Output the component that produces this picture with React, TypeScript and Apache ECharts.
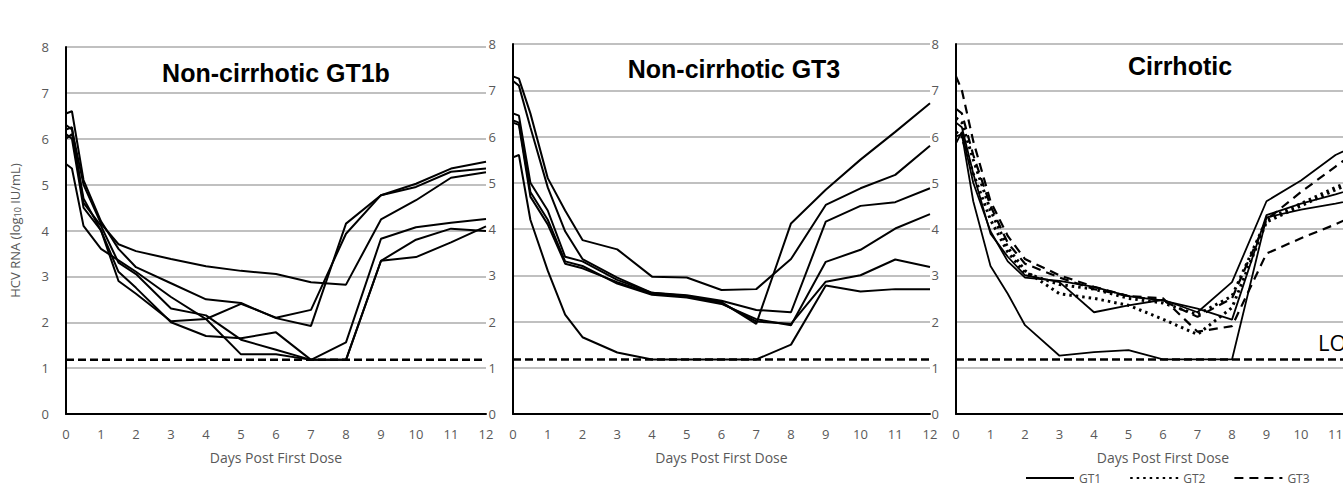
import React, { useEffect, useRef } from "react";
import * as echarts from "echarts";

// Sampling days (x values shared by every patient curve)
const DAYS = [0, 0.17, 0.5, 1, 1.5, 2, 3, 4, 5, 6, 7, 8, 9, 10, 11, 12];
const LOQ = 1.18;
const LOQ_SPAN = [0, 12];

const PANEL_TITLES = ["Non-cirrhotic GT1b", "Non-cirrhotic GT3", "Cirrhotic"];
const X_NAME = "Days Post First Dose";
const Y_NAME = "HCV RNA (log{s|10} IU/mL)";
const LEGEND_NAMES = ["GT1", "GT2", "GT3"];

// Panel 1: Non-cirrhotic GT1b
const GT1B_1 = [6.3, 6.2, 5.0, 4.15, 3.7, 3.55, 3.38, 3.22, 3.12, 3.05, 2.87, 2.82, 4.24, 4.66, 5.15, 5.27];
const GT1B_2 = [6.55, 6.6, 5.1, 4.2, 3.6, 3.2, 2.85, 2.5, 2.42, 2.09, 1.92, 4.15, 4.77, 5.02, 5.35, 5.5];
const GT1B_3 = [6.0, 6.1, 4.7, 4.0, 2.9, 2.62, 2.02, 2.07, 2.4, 2.1, 2.27, 3.93, 4.77, 4.95, 5.28, 5.35];
const GT1B_4 = [6.2, 6.25, 4.6, 4.1, 3.3, 3.05, 2.3, 2.15, 1.62, 1.4, 1.18, 1.18, 3.34, 3.8, 4.04, 3.99];
const GT1B_5 = [6.1, 6.0, 4.5, 4.0, 3.1, 2.75, 2.0, 1.7, 1.65, 1.78, 1.18, 1.56, 3.82, 4.07, 4.17, 4.25];
const GT1B_6 = [5.45, 5.35, 4.1, 3.6, 3.35, 3.1, 2.55, 2.07, 1.3, 1.3, 1.18, 1.18, 3.34, 3.42, 3.74, 4.09];

// Panel 2: Non-cirrhotic GT3
const NC3_1 = [5.55, 5.6, 4.2, 3.1, 2.15, 1.66, 1.33, 1.18, 1.18, 1.18, 1.18, 1.5, 2.78, 2.65, 2.7, 2.7];
const NC3_2 = [7.3, 7.25, 6.5, 5.1, 4.4, 3.76, 3.56, 2.97, 2.95, 2.68, 2.7, 3.35, 4.52, 4.88, 5.17, 5.8];
const NC3_3 = [7.2, 7.1, 6.2, 4.9, 3.95, 3.35, 2.95, 2.62, 2.55, 2.42, 1.95, 4.12, 4.85, 5.5, 6.1, 6.72];
const NC3_4 = [6.5, 6.45, 5.0, 4.4, 3.4, 3.3, 2.9, 2.62, 2.57, 2.45, 2.25, 2.2, 4.16, 4.5, 4.58, 4.88];
const NC3_5 = [6.35, 6.3, 4.8, 4.2, 3.3, 3.2, 2.82, 2.58, 2.52, 2.38, 2.05, 1.92, 3.29, 3.55, 4.01, 4.32];
const NC3_6 = [6.3, 6.25, 4.7, 4.1, 3.25, 3.15, 2.85, 2.6, 2.55, 2.4, 2.0, 1.95, 2.86, 3.0, 3.34, 3.18];

// Panel 3: Cirrhotic (GT1 solid, GT2 dotted, GT3 dashed)
const CIR_GT1_A = [6.0, 6.05, 4.6, 3.2, 2.6, 1.92, 1.26, 1.34, 1.38, 1.18, 1.18, 1.18, 4.25, 4.42, 4.55, 4.7];
const CIR_GT1_B = [6.3, 6.2, 5.2, 3.9, 3.4, 3.0, 2.85, 2.2, 2.35, 2.47, 2.2, 2.85, 4.6, 5.05, 5.6, 5.95];
const CIR_GT1_C = [5.85, 6.1, 5.0, 3.95, 3.3, 2.95, 2.88, 2.75, 2.55, 2.45, 2.28, 2.04, 4.3, 4.55, 4.75, 4.97];
const CIR_GT2_A = [6.4, 6.3, 5.5, 4.4, 3.6, 3.1, 2.6, 2.5, 2.35, 2.05, 1.72, 2.3, 4.15, 4.5, 4.85, 5.15];
const CIR_GT2_B = [6.1, 6.0, 5.2, 4.2, 3.5, 3.05, 2.8, 2.7, 2.5, 2.4, 2.15, 2.55, 4.2, 4.55, 4.9, 5.2];
const CIR_GT3_A = [7.3, 7.0, 5.9, 4.6, 3.85, 3.35, 3.0, 2.75, 2.55, 2.45, 2.1, 2.5, 4.2, 4.8, 5.35, 5.9];
const CIR_GT3_B = [6.6, 6.5, 5.6, 4.5, 3.7, 3.25, 2.95, 2.7, 2.55, 2.5, 1.78, 1.9, 3.47, 3.8, 4.1, 4.45];

const PANEL1 = [GT1B_1, GT1B_2, GT1B_3, GT1B_4, GT1B_5, GT1B_6];
const PANEL2 = [NC3_1, NC3_2, NC3_3, NC3_4, NC3_5, NC3_6];
const PANEL3 = [
  { name: "GT1", vals: CIR_GT1_A },
  { name: "GT1", vals: CIR_GT1_B },
  { name: "GT1", vals: CIR_GT1_C },
  { name: "GT2", vals: CIR_GT2_A },
  { name: "GT2", vals: CIR_GT2_B },
  { name: "GT3", vals: CIR_GT3_A },
  { name: "GT3", vals: CIR_GT3_B },
];

const GRAY = "#595959";
const TICK_FONT = "Open Sans";
const TITLE_FONT = "Liberation Sans";

const toPairs = (vals: number[]) => DAYS.map((d, i) => [d, vals[i]]);

export default function App() {
  const ref = useRef<HTMLDivElement>(null);

  useEffect(() => {
    if (!ref.current) return;
    const chart = echarts.init(ref.current, null, { renderer: "svg" });

    const grids = [
      { left: 66, top: 47, width: 420, height: 367 },
      { left: 513, top: 44, width: 417, height: 370 },
      { left: 956, top: 44, width: 414, height: 370 },
    ];

    const xAxes = grids.map((_, i) => ({
      type: "value",
      gridIndex: i,
      min: 0,
      max: 12,
      interval: 1,
      name: X_NAME,
      nameLocation: "middle",
      nameGap: 36,
      nameTextStyle: { color: GRAY, fontSize: 14, fontFamily: TICK_FONT },
      axisLine: { show: true, onZero: false, lineStyle: { color: "#000", width: 2 } },
      axisTick: { show: false },
      splitLine: { show: false },
      axisLabel: { color: GRAY, fontSize: 13, fontFamily: TICK_FONT, margin: 13 },
    }));

    const yAxes = grids.map((_, i) => ({
      type: "value",
      gridIndex: i,
      min: 0,
      max: 8,
      interval: 1,
      name: i === 0 ? Y_NAME : "",
      nameLocation: "middle",
      nameGap: 44,
      nameTextStyle: {
        color: GRAY,
        fontSize: 13,
        fontFamily: TICK_FONT,
        rich: { s: { fontSize: 9, color: GRAY, fontFamily: TICK_FONT, padding: [6, 0, 0, 0] } },
      },
      axisLine: { show: true, lineStyle: { color: "#000", width: 2 } },
      axisTick: { show: false },
      splitLine: { show: true, lineStyle: { color: "#c0c0c0", width: 2 } },
      axisLabel: { color: GRAY, fontSize: 13, fontFamily: TICK_FONT, margin: 17 },
    }));

    const series: any[] = [];
    [0, 1, 2].forEach((g) => {
      series.push({
        name: "LOQ",
        type: "line",
        xAxisIndex: g,
        yAxisIndex: g,
        data: LOQ_SPAN.map((d) => [d, LOQ]),
        symbol: "none",
        silent: true,
        z: 1,
        itemStyle: { color: "#000" },
        lineStyle: { color: "#000", width: 2.5, type: [8, 4] },
      });
    });
    PANEL1.forEach((vals, k) =>
      series.push({
        name: "GT1b-" + (k + 1),
        type: "line",
        xAxisIndex: 0,
        yAxisIndex: 0,
        data: toPairs(vals),
        symbol: "none",
        z: 3,
        itemStyle: { color: "#000" },
        lineStyle: { color: "#000", width: 2 },
      })
    );
    PANEL2.forEach((vals, k) =>
      series.push({
        name: "NC-GT3-" + (k + 1),
        type: "line",
        xAxisIndex: 1,
        yAxisIndex: 1,
        data: toPairs(vals),
        symbol: "none",
        z: 3,
        itemStyle: { color: "#000" },
        lineStyle: { color: "#000", width: 2 },
      })
    );
    PANEL3.forEach((p) => {
      const style =
        p.name === "GT1"
          ? { color: "#000", width: 1.8, type: "solid" }
          : p.name === "GT2"
          ? { color: "#000", width: 3, type: [2.5, 4] }
          : { color: "#000", width: 2.2, type: [9, 6] };
      series.push({
        name: p.name,
        type: "line",
        xAxisIndex: 2,
        yAxisIndex: 2,
        data: toPairs(p.vals),
        symbol: "none",
        z: 3,
        itemStyle: { color: "#000" },
        lineStyle: style,
      });
    });

    const titleCenters = [
      [276, 73],
      [734, 69],
      [1180, 66],
    ];

    chart.setOption({
      animation: false,
      backgroundColor: "#ffffff",
      grid: grids,
      xAxis: xAxes,
      yAxis: yAxes,
      legend: {
        data: LEGEND_NAMES,
        left: 1020,
        top: 467,
        itemWidth: 48,
        itemHeight: 10,
        itemGap: 28,
        selectedMode: false,
        itemStyle: { opacity: 0 },
        textStyle: { color: GRAY, fontSize: 12, fontFamily: TICK_FONT },
      },
      series,
      graphic: [
        ...PANEL_TITLES.map((t, i) => ({
          type: "text",
          x: titleCenters[i][0],
          y: titleCenters[i][1],
          style: {
            text: t,
            fill: "#000",
            font: `bold 25px "${TITLE_FONT}"`,
            align: "center",
            verticalAlign: "middle",
          },
          z: 10,
        })),
        {
          type: "text",
          x: 1318,
          y: 342,
          style: {
            text: "LOQ",
            fill: "#000",
            font: `22px "${TICK_FONT}"`,
            align: "left",
            verticalAlign: "middle",
          },
          z: 10,
        },
      ],
    });

    return () => chart.dispose();
  }, []);

  return (
    <div
      style={{ position: "absolute", left: 0, top: 0, width: 1343, height: 487, overflow: "hidden" }}
    >
      <div ref={ref} style={{ width: 1400, height: 487 }} />
    </div>
  );
}
